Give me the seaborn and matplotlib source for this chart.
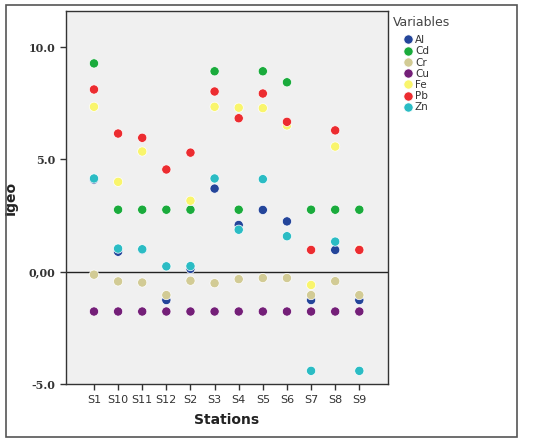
import pandas as pd
import matplotlib
matplotlib.use("Agg")
import matplotlib.pyplot as plt
from matplotlib.patches import Rectangle
import seaborn as sns

# Igeo values per station
stations = ["S1", "S10", "S11", "S12", "S2", "S3", "S4", "S5", "S6", "S7", "S8", "S9"]
al = [4.10, 0.89, 0.98, -1.26, 0.13, 3.70, 2.08, 2.75, 2.24, -1.26, 0.97, -1.26]
cd = [9.27, 2.76, 2.76, 2.76, 2.76, 8.92, 2.76, 8.92, 8.43, 2.76, 2.76, 2.76]
cr = [-0.13, -0.43, -0.48, -1.04, -0.40, -0.51, -0.33, -0.28, -0.28, -1.04, -0.42, -1.04]
cu = [-1.77] * 12
fe = [7.34, 4.00, 5.35, None, 3.16, 7.34, 7.30, 7.28, 6.51, -0.59, 5.57, 1.00]
pb = [8.11, 6.15, 5.96, 4.55, 5.30, 8.02, 6.83, 7.93, 6.67, 0.97, 6.29, 0.97]
zn = [4.15, 1.03, 1.00, 0.24, 0.25, 4.15, 1.87, 4.12, 1.58, -4.41, 1.34, -4.41]

variables = ["Al", "Cd", "Cr", "Cu", "Fe", "Pb", "Zn"]
series = [al, cd, cr, cu, fe, pb, zn]
colors = ["#24459a", "#1aab3c", "#d2cb95", "#741f78", "#f9f56c", "#ec2c30", "#2bbcc4"]

rows = []
for var, vals in zip(variables, series):
    for st, v in zip(stations, vals):
        if v is not None:
            rows.append({"Stations": st, "Igeo": v, "Variables": var})
df = pd.DataFrame(rows)

sns.set_style("white")
fig = plt.figure(figsize=(5.5, 4.42), dpi=100)
ax = fig.add_axes([0.12, 0.131, 0.5855, 0.844])
ax.set_facecolor("#f0f0f0")

sns.scatterplot(
    data=df, x="Stations", y="Igeo", hue="Variables",
    hue_order=variables, palette=colors, s=44,
    edgecolor="white", linewidth=0.5, ax=ax, zorder=3,
)
ax.set_xticks(range(len(stations)))
ax.set_xticklabels(stations)
ax.axhline(0, color="#222222", linewidth=1.0, zorder=2)

ax.set_xlim(-1.16, len(stations) - 1 + 1.19)
ax.set_ylim(-5, 11.6)
ax.set_yticks([10, 5, 0, -5])
ax.set_yticklabels(["10.0", "5.0", "0,00", "-5.0"],
                   family="DejaVu Serif", fontweight="bold", fontsize=8, color="#333333")
for lab in ax.get_xticklabels():
    lab.set_fontsize(8)
    lab.set_color("#333333")
ax.tick_params(axis="both", direction="out", length=4, width=1, color="#333333",
               bottom=True, left=True)
ax.set_xlabel("Stations", fontweight="bold", fontsize=10, color="#222222", labelpad=6)
ax.set_ylabel("Igeo", fontweight="bold", fontsize=10, color="#222222", labelpad=8)
for sp in ax.spines.values():
    sp.set_color("#333333")
    sp.set_linewidth(1.0)

# legend: title as separate text, entries indented under it
fig.text(393 / 550, 1 - 22 / 442, "Variables", fontsize=9, color="#444444",
         ha="left", va="center")
leg = ax.legend(loc="upper left", bbox_to_anchor=(404 / 550, 1 - 35 / 442),
                bbox_transform=fig.transFigure, frameon=False, fontsize=7.5,
                handlelength=0.8, handletextpad=0.25, labelspacing=0.12,
                borderpad=0, borderaxespad=0, markerscale=1.0)
for t in leg.get_texts():
    t.set_color("#333333")

# outer frame of the figure
fig.patches.append(Rectangle((0.011, 0.011), 0.929, 0.978, transform=fig.transFigure,
                             fill=False, edgecolor="#555555", linewidth=1.2))

fig.savefig("out.png", dpi=100)
